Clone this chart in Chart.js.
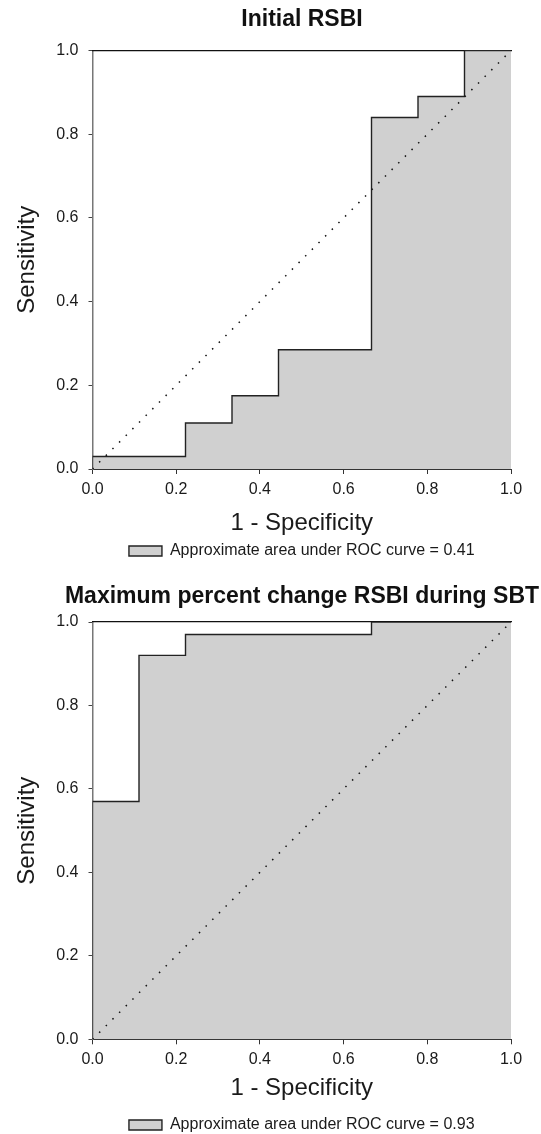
<!DOCTYPE html>
<html>
<head>
<meta charset="utf-8">
<script src="https://cdn.jsdelivr.net/npm/chart.js@4.4.0/dist/chart.umd.min.js"></script>
<style>
  html, body { margin: 0; padding: 0; background: #fff; overflow: hidden; }
  canvas { display: block; }
</style>
</head>
<body>
<canvas id="rocTop" width="604" height="569"></canvas>
<canvas id="rocBottom" width="604" height="574"></canvas>
<script>
// ROC corner points (1 - specificity, sensitivity), drawn as steps
const fprInitial = [0, 0, 2/9, 3/9, 4/9, 6/9, 7/9, 8/9, 1];
const tprInitial = [0, 0.03, 0.11, 0.175, 0.285, 0.84, 0.89, 1, 1];
const fprChange = [0, 0, 1/9, 2/9, 6/9, 1];
const tprChange = [0, 0.57, 0.92, 0.97, 1, 1];
const refLine = [0, 1];
const tickVals = [0, 0.2, 0.4, 0.6, 0.8, 1.0];
const chartTitles = ['Initial RSBI', 'Maximum percent change RSBI during SBT'];
const aucLabels = ['Approximate area under ROC curve = 0.41', 'Approximate area under ROC curve = 0.93'];

Chart.defaults.font.family = "'Liberation Sans', Arial, sans-serif";
Chart.defaults.color = '#1a1a1a';

function toPoints(xs, ys) {
  return xs.map((x, i) => ({x: x, y: ys[i]}));
}

function fixedTicks(s) {
  s.ticks = tickVals.map(v => ({value: v}));
}

// canvas is 604 wide (clipped at 541) so the full-width title centres over the plot
function renderRoc(el, fpr, tpr, title, auc, L) {
  return new Chart(el, {
    type: 'scatter',
    data: {
      datasets: [{
        label: 'reference',
        data: toPoints(refLine, refLine),
        showLine: true,
        borderColor: '#111',
        borderWidth: 1.5,
        borderDash: [1.5, 7.9],
        pointRadius: 0,
        fill: false
      }, {
        label: auc,
        data: toPoints(fpr, tpr),
        showLine: true,
        stepped: 'before',
        borderColor: '#222',
        borderWidth: 1.4,
        backgroundColor: '#d0d0d0',
        pointRadius: 0,
        fill: 'origin'
      }]
    },
    options: {
      responsive: false,
      animation: false,
      layout: {padding: 0},
      plugins: {
        tooltip: {enabled: false},
        title: {
          display: true,
          text: title,
          color: '#111',
          font: {size: 23, weight: 'bold'},
          padding: {top: L.titleTop, bottom: L.titleBottom}
        },
        legend: {
          position: 'bottom',
          fullSize: false,
          labels: {
            boxWidth: 33,
            boxHeight: 10,
            padding: 4,
            font: {size: 16},
            filter: item => item.datasetIndex === 1
          }
        }
      },
      scales: {
        x: {
          type: 'linear',
          position: 'bottom',
          min: 0, max: 1,
          z: 1,
          afterFit: s => { s.height = L.xAxisH; },
          afterBuildTicks: fixedTicks,
          border: {color: '#333', width: 1},
          grid: {drawOnChartArea: false, tickLength: 5, tickColor: '#333'},
          ticks: {padding: L.tickPad, font: {size: 16}, maxRotation: 0, autoSkip: false,
                  callback: v => v.toFixed(1)},
          title: {display: true, text: '1 - Specificity', font: {size: 24},
                  padding: {top: 0, bottom: L.xTitleBottom}}
        },
        y: {
          type: 'linear',
          position: 'left',
          min: 0, max: 1,
          z: 1,
          afterFit: s => { s.width = 92.5; },
          afterBuildTicks: fixedTicks,
          border: {color: '#777', width: 1.5},
          grid: {drawOnChartArea: false, tickLength: 4, tickColor: '#444'},
          ticks: {padding: 10, font: {size: 16}, callback: v => v.toFixed(1)},
          title: {display: true, text: 'Sensitivity', font: {size: 24},
                  padding: {top: 13, bottom: 0}}
        },
        xTop: {
          type: 'linear',
          position: 'top',
          min: 0, max: 1,
          z: 1,
          afterFit: s => { s.height = 0; },
          border: {color: '#111', width: 1.2},
          grid: {drawOnChartArea: false, drawTicks: false},
          ticks: {display: false}
        },
        yRight: {
          type: 'linear',
          position: 'right',
          min: 0, max: 1,
          afterFit: s => { s.width = 93; },
          border: {display: false},
          grid: {drawOnChartArea: false, drawTicks: false},
          ticks: {display: false}
        }
      }
    }
  });
}

renderRoc(document.getElementById('rocTop'), fprInitial, tprInitial, chartTitles[0], aucLabels[0],
  {titleTop: 5.8, titleBottom: 17.1, xAxisH: 70, tickPad: 6.4, xTitleBottom: 1.6});
renderRoc(document.getElementById('rocBottom'), fprChange, tprChange, chartTitles[1], aucLabels[1],
  {titleTop: 13.5, titleBottom: 11.9, xAxisH: 73.7, tickPad: 6.1, xTitleBottom: 10.6});
</script>
</body>
</html>
